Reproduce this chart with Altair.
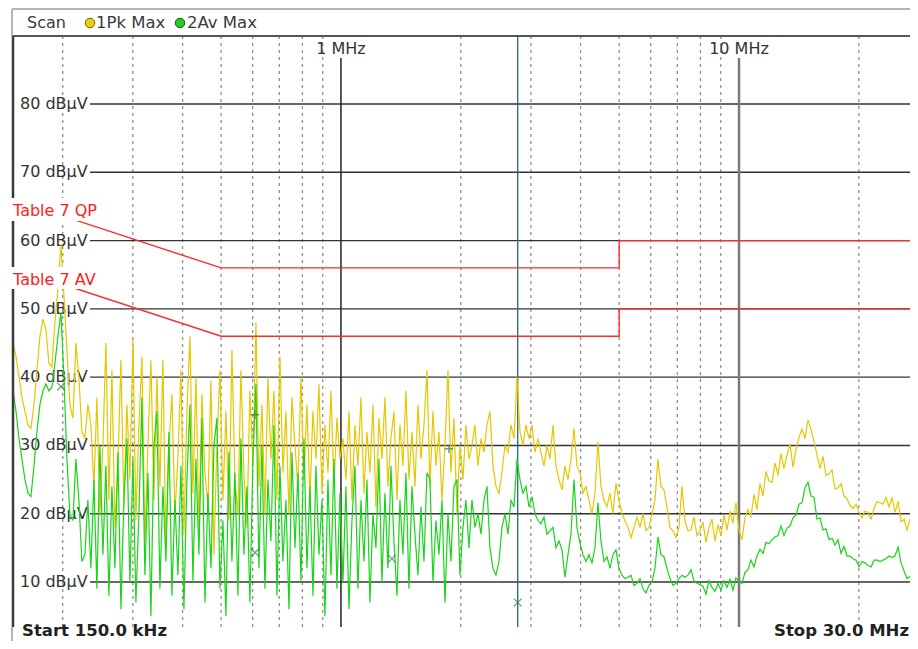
import altair as alt
import numpy as np
import pandas as pd

# ---------------- data ----------------
# sweep segments (MHz) the trace values below are spread over
seg_start = [0.150, 0.2354, 1.0116, 2.1337, 2.8168, 7.5737]
seg_stop = [0.2313, 0.9942, 2.0969, 2.7683, 7.4433, 27.846]

# trace 1: Peak max (dBuV)
pk_a = [45, 43, 40, 37, 35, 33, 32.5, 36, 41, 46, 48.5, 47, 42, 41.5, 48, 53, 59.5, 52, 44, 36, 34, 45, 40, 32, 31, 36]
pk_b = [33, 24, 37, 20, 30, 45, 22, 41, 18, 27, 42.5, 21,
        36, 25, 45.5, 19, 33, 43, 16, 30, 42.5, 22, 40, 24,
        42.5, 15, 30, 37.5, 20, 28, 41, 17, 35, 46, 23, 40,
        18, 37.5, 26, 21, 39.5, 14, 30, 41, 22, 35, 19, 44,
        25, 20, 41, 26, 18, 38, 27, 48, 24, 36, 20, 40,
        28, 38, 22, 43, 26, 35, 20, 37, 30, 24, 40, 25,
        36, 22, 35, 28, 39, 23, 33, 26, 38, 24, 34, 28]
pk_c = [31, 25, 35, 22, 33, 27, 37, 23, 32, 26, 36, 21,
        34, 28, 37, 24, 31, 35, 22, 33, 27, 38, 25, 32,
        24, 36, 28, 33, 41, 24, 35, 27, 32, 22, 30, 41,
        26, 34, 20, 30, 25, 33, 28]
pk_d = [30, 33, 27, 31, 29, 33, 35, 27, 24, 23, 26, 30, 29, 33, 31, 40]
pk_e = [32, 30, 33, 31, 33, 29, 31, 29, 27, 30,
        28, 33, 27, 25, 23.5, 27, 25, 28, 32.5, 27,
        26, 23, 24, 22, 20, 23, 30.5, 24, 22, 21,
        23, 20, 24.5, 22, 20, 19, 18, 16.5, 18, 19.5,
        18, 20, 17.5, 18, 20, 22, 28, 24, 23.5, 21,
        18, 17.5, 16.5, 18, 24, 19, 17.5]
pk_f = [17.6, 19.5, 16.8, 17.5, 18.8, 15.8, 18, 19.2, 16, 18.4,
        16.8, 19.8, 17.6, 20.4, 18.6, 21.6, 17.6, 16.2, 19.4, 20.6,
        19.6, 22.8, 20.6, 24.4, 22.6, 26.2, 24.8, 24.6, 27.4, 25.6,
        28.8, 26.6, 28.6, 30.2, 26.8, 29.4, 31.2, 32.4, 31, 33.7,
        32.4, 30.6, 28.6, 26.6, 28.4, 25.6, 25.8, 26.4, 23.6, 23.8,
        24.4, 22.6, 22.2, 21.2, 20.8, 21.4, 20.2, 19.4, 20.4, 20.2,
        19.2, 20.8, 21.8, 21.6, 21.4, 22.4, 21, 22.4, 20.2, 21.8,
        18.8, 19.2, 17.6, 19.2, 17.2, 18.2]

# trace 2: Average max (dBuV)
av_a = [38, 35, 31, 28, 25, 23, 22.5, 27, 32, 36, 38, 39, 38, 38.5, 42, 46, 49.5, 40, 28, 20, 19, 28, 22, 13, 14, 22]
av_b = [12, 25, 9, 30, 14, 27, 8, 24, 12, 29, 6, 22,
        31, 10, 28, 7, 20, 37, 11, 26, 5, 30, 35, 9,
        24, 13, 32, 8, 22, 11, 27, 6, 25, 36, 10, 28,
        14, 34, 7, 23, 12, 30, 34, 9, 19, 5, 29, 13,
        26, 8, 31, 14, 24, 7, 28, 39, 12, 30, 9, 25,
        16, 33, 8, 27, 13, 22, 6, 29, 15, 26, 10, 31,
        12, 24, 8, 27, 14, 22, 5, 25, 11, 28, 9, 23]
av_c = [10, 24, 6, 19, 27, 9, 22, 13, 25, 7, 20, 15,
        28, 10, 23, 12, 27, 16, 8, 22, 14, 26, 9, 24,
        17, 11, 21, 13, 26, 25, 10, 19, 14, 22, 7, 20,
        13, 24, 25, 11, 18, 22, 15]
av_d = [22, 18, 20, 17, 22, 24, 15, 12, 11, 13, 18, 20, 17, 22, 21, 28]
av_e = [25, 23, 24, 21, 22.5, 20, 19, 18.5, 19.5, 17,
        17.5, 18, 15, 16, 14.7, 10.7, 14, 17, 25, 18,
        15.7, 14, 13, 14, 12.8, 15, 21.6, 16, 13, 13.7,
        12, 14, 14.7, 12, 11, 10.5, 10.7, 11, 9.5, 9.8,
        10.5, 9, 8.4, 9.5, 10, 12, 16.6, 14, 13.7, 12,
        10.5, 9.5, 9.8, 10.5, 11, 10.7, 11]
av_f = [11.8, 10.2, 9.8, 9.6, 9.4, 8.2, 10.2, 9.2, 8.6, 9.8,
        8.8, 10.2, 9.2, 10.4, 8.8, 10.6, 10, 9.8, 11.4, 11.8,
        13.2, 12.2, 13.8, 14.8, 14.2, 15.8, 15.6, 16.2, 16.6, 16.8,
        18.2, 16.8, 17.9, 18.2, 19.4, 19.8, 21.4, 21.6, 23.8, 24.6,
        22.6, 22.4, 19.2, 19.4, 17.6, 17.8, 16.2, 16.4, 15.4, 16.2,
        14.2, 15.2, 13.8, 13.8, 13.4, 13.2, 12.2, 13, 12.8, 12.4,
        12.2, 13.2, 13.2, 13, 13.2, 13.4, 13.8, 13.6, 13.8, 15.1,
        12.8, 11.6, 10.5, 10.8, 10.1, 10.2]

# limit lines (Table 7)
lim_freq = [0.15, 0.5, 5.0, 5.0, 30.0]
qp_limit = [66, 56, 56, 60, 60]
av_limit = [56, 46, 46, 50, 50]

# grid
grid_db = [10, 20, 30, 40, 50, 60, 70, 80]
grid_labels = ["10 dBµV", "20 dBµV", "30 dBµV", "40 dBµV", "50 dBµV", "60 dBµV", "70 dBµV", "80 dBµV"]
minor_freq = [0.2, 0.3, 0.4, 0.5, 0.6, 0.7, 0.8, 0.9, 2, 3, 4, 5, 6, 7, 8, 9, 20]
major_freq = [1, 10]
major_labels = ["1 MHz", "10 MHz"]
marker_line_freq = 2.78

# markers
x_mark_freq = [0.198, 0.608, 1.343, 2.78]
x_mark_db = [38.6, 14.3, 13.4, 7.0]
plus_mark_freq = [0.608, 1.868]
plus_mark_db = [34.5, 29.5]

# ---------------- build ----------------
def sweep(segs):
    f, v = [], []
    for s, e, vals in zip(seg_start, seg_stop, segs):
        f.extend(np.geomspace(s, e, len(vals)).tolist())
        v.extend(vals)
    return pd.DataFrame({"f": f, "db": v})

pk_df = sweep([pk_a, pk_b, pk_c, pk_d, pk_e, pk_f])
av_df = sweep([av_a, av_b, av_c, av_d, av_e, av_f])
qp_df = pd.DataFrame({"f": lim_freq, "db": qp_limit, "i": range(len(lim_freq))})
avl_df = pd.DataFrame({"f": lim_freq, "db": av_limit, "i": range(len(lim_freq))})
grid_df = pd.DataFrame({"db": grid_db, "label": grid_labels})
major_df = pd.DataFrame({"f": major_freq, "label": major_labels})

W, H = 897, 591
FONT = "DejaVu Sans"
XS = alt.Scale(type="log", domain=[0.15, 26.89], nice=False)
YS = alt.Scale(domain=[3.41, 89.96], nice=False, zero=False)

def X(field="f"):
    return alt.X(f"{field}:Q", scale=XS, axis=None)

def Y(field="db"):
    return alt.Y(f"{field}:Q", scale=YS, axis=None)

one = pd.DataFrame({"a": [0]})

vdash = alt.Chart(pd.DataFrame({"f": minor_freq})).mark_rule(
    color="#8f8f8f", strokeWidth=1.3, strokeDash=[3, 4]).encode(
    x=X(), y=alt.value(0), y2=alt.value(H))

hgrid = alt.Chart(grid_df).mark_rule(color="#333333", strokeWidth=1.4).encode(
    y=Y(), x=alt.value(77), x2=alt.value(W))

hlabels = alt.Chart(grid_df).mark_text(
    align="left", baseline="middle", font=FONT, fontSize=16, color="#333333").encode(
    y=Y(), x=alt.value(7), text="label:N")

major1 = alt.Chart(major_df.iloc[[0]]).mark_rule(color="#222222", strokeWidth=1.5).encode(
    x=X(), y=alt.value(22), y2=alt.value(H))
major10 = alt.Chart(major_df.iloc[[1]]).mark_rule(color="#7a7a7a", strokeWidth=2.5).encode(
    x=X(), y=alt.value(22), y2=alt.value(H))
mlabels = alt.Chart(major_df).mark_text(
    align="center", baseline="middle", font=FONT, fontSize=16, color="#333333").encode(
    x=X(), y=alt.value(13), text="label:N")

teal = alt.Chart(pd.DataFrame({"f": [marker_line_freq]})).mark_rule(
    color="#1f6c7c", strokeWidth=1.3).encode(x=X(), y=alt.value(0), y2=alt.value(H))

pk_line = alt.Chart(pk_df).mark_line(color="#e6c700", strokeWidth=1.2, clip=True).encode(x=X(), y=Y())
av_line = alt.Chart(av_df).mark_line(color="#1ad41a", strokeWidth=1.2, clip=True).encode(x=X(), y=Y())

qp_line = alt.Chart(qp_df).mark_line(color="#ff2b2b", strokeWidth=1.4, clip=True).encode(
    x=X(), y=Y(), order="i:Q")
avl_line = alt.Chart(avl_df).mark_line(color="#ff2b2b", strokeWidth=1.4, clip=True).encode(
    x=X(), y=Y(), order="i:Q")

# frame
top_dark = alt.Chart(one).mark_rule(color="#555555", strokeWidth=2).encode(
    x=alt.value(-1), x2=alt.value(W), y=alt.value(0))
left_dark = alt.Chart(one).mark_rule(color="#3a3a3a", strokeWidth=2.5).encode(
    x=alt.value(0), y=alt.value(0), y2=alt.value(H))
frame_top = alt.Chart(one).mark_rule(color="#b4b4b4", strokeWidth=2).encode(
    x=alt.value(-1), x2=alt.value(W), y=alt.value(-27))
frame_left1 = alt.Chart(one).mark_rule(color="#b4b4b4", strokeWidth=2).encode(
    x=alt.value(-1), y=alt.value(-27), y2=alt.value(0))
frame_left2 = alt.Chart(one).mark_rule(color="#b4b4b4", strokeWidth=2).encode(
    x=alt.value(-1), y=alt.value(H), y2=alt.value(605))

# label boxes hiding what lies beneath the limit-line names
box_qp = alt.Chart(one).mark_rect(color="white").encode(
    x=alt.value(-3), x2=alt.value(89), y=alt.value(162), y2=alt.value(185))
box_av = alt.Chart(one).mark_rect(color="white").encode(
    x=alt.value(-3), x2=alt.value(89), y=alt.value(231), y2=alt.value(253))
txt_qp = alt.Chart(one).mark_text(
    text="Table 7 QP", align="left", baseline="middle", font=FONT, fontSize=16, color="#ff2020").encode(
    x=alt.value(0), y=alt.value(175))
txt_av = alt.Chart(one).mark_text(
    text="Table 7 AV", align="left", baseline="middle", font=FONT, fontSize=16, color="#ff2020").encode(
    x=alt.value(0), y=alt.value(244))

# markers
xm = alt.Chart(pd.DataFrame({"f": x_mark_freq, "db": x_mark_db})).mark_point(
    shape="M-1,-1L1,1M-1,1L1,-1", size=60, filled=False, color="#2e7d46", strokeWidth=1.3).encode(x=X(), y=Y())
pm = alt.Chart(pd.DataFrame({"f": plus_mark_freq, "db": plus_mark_db})).mark_point(
    shape="M-1,0L1,0M0,-1L0,1", size=70, filled=False, color="#2e7d46", strokeWidth=1.5).encode(x=X(), y=Y())

# header
hdr_scan = alt.Chart(one).mark_text(
    text="Scan", align="left", baseline="middle", font=FONT, fontSize=16, color="#3a3a3a").encode(
    x=alt.value(14), y=alt.value(-13))
hdr_c1 = alt.Chart(one).mark_point(
    shape="circle", filled=True, fill="#e8cf10", stroke="#6f6300", strokeWidth=1, size=90, opacity=1).encode(
    x=alt.value(77), y=alt.value(-13))
hdr_t1 = alt.Chart(one).mark_text(
    text="1Pk Max", align="left", baseline="middle", font=FONT, fontSize=16.5, color="#3a3a3a").encode(
    x=alt.value(83), y=alt.value(-13))
hdr_c2 = alt.Chart(one).mark_point(
    shape="circle", filled=True, fill="#22cc22", stroke="#0b5a0b", strokeWidth=1, size=90, opacity=1).encode(
    x=alt.value(167), y=alt.value(-13))
hdr_t2 = alt.Chart(one).mark_text(
    text="2Av Max", align="left", baseline="middle", font=FONT, fontSize=16.5, color="#3a3a3a").encode(
    x=alt.value(174), y=alt.value(-13))

start_t = alt.Chart(one).mark_text(
    text="Start 150.0 kHz", align="left", baseline="bottom", font=FONT, fontSize=16.5,
    fontWeight="bold", color="#222222").encode(x=alt.value(9), y=alt.value(603))
stop_t = alt.Chart(one).mark_text(
    text="Stop 30.0 MHz", align="right", baseline="bottom", font=FONT, fontSize=16.5,
    fontWeight="bold", color="#222222").encode(x=alt.value(W - 1), y=alt.value(603))

chart = alt.layer(
    vdash, hgrid, hlabels, major1, major10, mlabels, teal,
    pk_line, av_line, top_dark, left_dark, frame_top, frame_left1, frame_left2,
    qp_line, avl_line, box_qp, box_av, txt_qp, txt_av, xm, pm,
    hdr_scan, hdr_c1, hdr_t1, hdr_c2, hdr_t2, start_t, stop_t,
).properties(
    width=W, height=H,
    padding={"left": 5, "top": 28, "right": 0, "bottom": 14},
    autosize=alt.AutoSizeParams(type="none"),
    background="white",
).configure_view(strokeWidth=0)

chart.save("out.html", embed_options={"renderer": "svg", "actions": False})
